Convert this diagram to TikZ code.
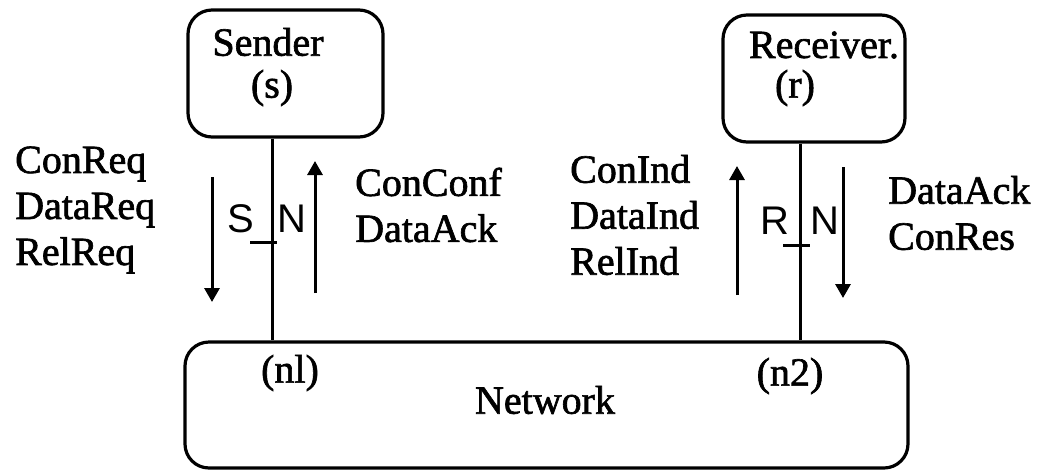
\documentclass[tikz,border=0pt]{standalone}
\usepackage{fontspec}
\setmainfont{Liberation Serif}[FakeBold=1.6]
\setsansfont{Liberation Sans}
\usetikzlibrary{arrows.meta}
\begin{document}
\begin{tikzpicture}[x=1pt,y=-1pt,
  box/.style={draw,line width=3.2pt,rounded corners=24pt,inner sep=0pt},
  lbl/.style={inner sep=0pt,font=\fontsize{40}{46}\selectfont},
  blk/.style={lbl,align=left,anchor=west},
  sf/.style={inner sep=0pt,font=\sffamily\fontsize{40}{46}\selectfont},
  wire/.style={line width=3pt},
  arr/.style={line width=3pt,-{Triangle[length=14pt,width=15pt]}}]
\useasboundingbox (0,0) rectangle (1053,475);
% boxes
\node[box,minimum width=195pt,minimum height=127pt] (snd) at (285.5,73.5) {};
\node[box,minimum width=182pt,minimum height=127pt] (rcv) at (814,78.5) {};
\node[box,minimum width=723pt,minimum height=126pt] (net) at (546.5,405) {};
% box texts
\node[lbl] (sendt) at (268,42) {Sender};
\node[lbl] (st) at (272,88) {(s)};
\node[lbl] (rcvt) at (824,45) {Receiver.};
\node[lbl] (rt) at (795,88) {(r)};
\node[lbl] (n1) at (290,373) {(nl)};
\node[lbl] (n2) at (790,376) {(n2)};
\node[lbl] (nett) at (545,400) {Network};
% vertical links
\coordinate (sx) at (272,0);
\coordinate (rx) at (800,0);
\draw[wire] (snd.south -| sx) -- (net.north -| sx);
\draw[wire] (rcv.south -| rx) -- (net.north -| rx);
% S_N and R_N
\node[sf] (S) at (241,219) {S};
\node[sf] (N1) at (292,219) {N};
\coordinate (st1) at (250,242);
\draw[wire] (st1) -- (st1 -| N1.west);
\node[sf] (R) at (775,221) {R};
\node[sf] (N2) at (825,221) {N};
\coordinate (rt1) at (783,245);
\draw[wire] (rt1) -- (rt1 -| N2.west);
% arrows
\coordinate (a1s) at (212,177); \coordinate (a1e) at (212,302);
\draw[arr] (a1s) -- (a1e);
\coordinate (a2s) at (315,293); \coordinate (a2e) at (315,161);
\draw[arr] (a2s) -- (a2e);
\coordinate (a3s) at (737,295); \coordinate (a3e) at (737,166);
\draw[arr] (a3s) -- (a3e);
\coordinate (a4s) at (843,167); \coordinate (a4e) at (843,298);
\draw[arr] (a4s) -- (a4e);
% message labels
\node[blk] (reqs) at (15,210) {ConReq\\DataReq\\RelReq};
\node[blk] (confs) at (355,205) {ConConf\\DataAck};
\node[blk] (inds) at (570,215) {ConInd\\DataInd\\RelInd};
\node[blk] (ress) at (888,213) {DataAck\\ConRes};
\end{tikzpicture}
\end{document}
